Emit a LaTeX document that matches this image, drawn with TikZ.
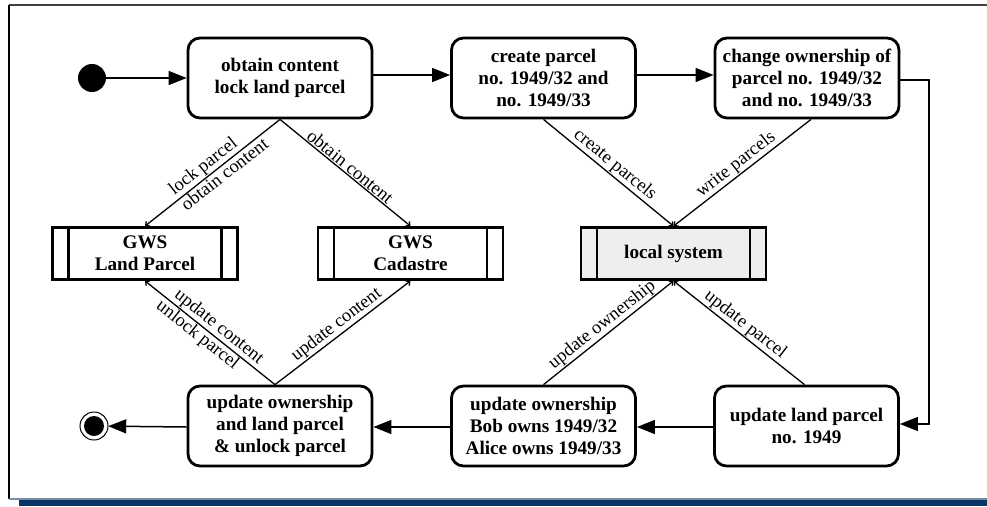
\documentclass[tikz,border=0pt]{standalone}
\usepackage{fontspec}
\setmainfont{Liberation Serif}
\usetikzlibrary{arrows.meta}
\definecolor{navy}{RGB}{10,50,100}
\definecolor{boxgray}{RGB}{238,238,238}
\begin{document}
\begin{tikzpicture}[x=1pt,y=-1pt,
  statebox/.style={draw, line width=2.8pt, rounded corners=12pt, minimum width=184pt,
    minimum height=80pt, inner sep=0pt, align=center,
    font=\bfseries\fontsize{19.2}{21.7}\selectfont},
  subsys/.style={draw, line width=2.8pt, minimum width=185pt, minimum height=52pt,
    inner sep=0pt, align=center, font=\bfseries\fontsize{19.2}{21.7}\selectfont,
    path picture={
      \draw[line width=2.4pt]
        ([xshift=16pt]path picture bounding box.north west) -- ([xshift=16pt]path picture bounding box.south west)
        ([xshift=-16pt]path picture bounding box.north east) -- ([xshift=-16pt]path picture bounding box.south east);
    }},
  flow/.style={line width=1.5pt, -{Triangle[length=18pt,width=14pt]}},
  call/.style={line width=1.3pt, -{Straight Barb[length=3pt,width=6pt]}},
  lbl/.style={font=\fontsize{18.5}{20}\selectfont, sloped, inner sep=1pt}
]
\useasboundingbox (0,0) rectangle (987,506);

% frame and bottom bar
\draw[line width=2pt, black!75] (9,5) -- (987,5);
\draw[line width=2pt, black] (9,5) -- (9,499);
\draw[line width=1.2pt, color={rgb,255:red,120;green,140;blue,165}] (9,499) -- (987,499);
\fill[navy] (19,500) rectangle (987,506);

% initial and final states
\fill (92,78) circle (14pt);
\node[circle, minimum size=28pt, inner sep=0pt] (init) at (92,78) {};
\draw[line width=1pt] (94,426) circle (14pt);
\fill (94,426) circle (10pt);
\node[circle, minimum size=28pt, inner sep=0pt] (final) at (94,426) {};

% activity states
\node[statebox] (obtain) at (280,78) {obtain content\\lock land parcel};
\node[statebox] (create) at (543.5,78) {create parcel\\no. 1949/32 and\\no. 1949/33};
\node[statebox] (change) at (807,78) {change ownership of\\parcel no. 1949/32\\and no. 1949/33};
\node[statebox] (upd) at (280,426) {update ownership\\and land parcel\\\& unlock parcel};
\node[statebox] (bob) at (543.5,426) {update ownership\\Bob owns 1949/32\\Alice owns 1949/33};
\node[statebox] (upl) at (806.5,426) {update land parcel\\no. 1949};

% systems
\node[subsys] (lp) at (145,253.5) {GWS\\Land Parcel};
\node[subsys] (cad) at (410.5,253.5) {GWS\\Cadastre};
\node[subsys, fill=boxgray] (loc) at (673.5,253.5) {local system};

% control flow
\draw[flow] (init) -- (obtain.west |- init);
\draw[flow] ([yshift=3pt]obtain.east) -- ([yshift=3pt]create.west);
\draw[flow] ([yshift=3pt]create.east) -- ([yshift=3pt]change.west);
\coordinate (turnA) at (929,80);
\coordinate (turnB) at (929,424);
\draw[line width=1.2pt, -{Triangle[length=18pt,width=14pt]}]
  (change.east |- turnA) -- (turnA) -- (turnB) -- (upl.east |- turnB);
\draw[flow] (upl.west |- 0,427) -- (bob.east |- 0,427);
\draw[flow] (bob.west |- 0,427) -- (upd.east |- 0,427);
\draw[flow] (upd.west |- 0,427) -- (final);

% calls to the systems
\draw[call] (obtain.south) -- (lp.north)
  node[lbl, pos=0.52, above] {lock parcel}
  node[lbl, pos=0.45, below] {obtain content};
\draw[call] (obtain.south) -- (cad.north)
  node[lbl, midway, above] {obtain content};
\draw[call] (create.south) -- (loc.north)
  node[lbl, midway, above] {create parcels};
\draw[call] ([xshift=4pt]change.south) -- (loc.north)
  node[lbl, midway, above] {write parcels};
\draw[call] ([xshift=-5pt]upd.north) -- (lp.south)
  node[lbl, pos=0.48, above] {update content}
  node[lbl, pos=0.55, below] {unlock parcel};
\draw[call] ([xshift=-5pt]upd.north) -- (cad.south)
  node[lbl, midway, above] {update content};
\draw[call] (bob.north) -- (loc.south)
  node[lbl, midway, above] {update ownership};
\draw[call] ([xshift=-2pt]upl.north) -- (loc.south)
  node[lbl, midway, above] {update parcel};
\end{tikzpicture}
\end{document}
